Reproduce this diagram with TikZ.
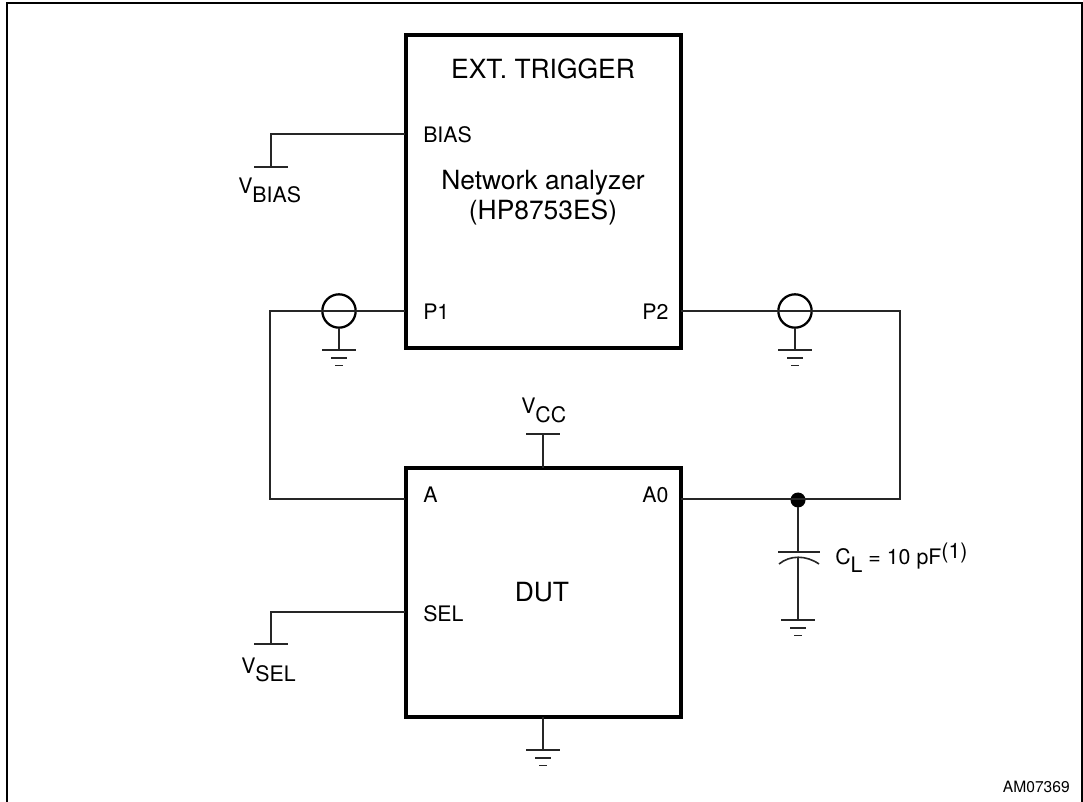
\documentclass[tikz,border=0pt]{standalone}
\usepackage{fontspec}
\setmainfont{TeX Gyre Heros}
\usetikzlibrary{positioning, calc}
\newcommand{\lowered}[1]{\raisebox{-6.5pt}{#1}}
\newcommand{\raised}[1]{\raisebox{4.9pt}{#1}}
\tikzset{
  wire/.style={line width=1.2pt, black!85},
  frame/.style={draw=black, line width=1.5pt},
  block/.style={rectangle, draw=black, line width=3pt, anchor=north west, inner sep=0pt, outer sep=0pt},
  coax/.style={circle, draw=black, line width=1.7pt, minimum size=25pt, inner sep=0pt, outer sep=0pt},
  junction/.style={circle, fill=black, minimum size=11.25pt, inner sep=0pt, outer sep=0pt},
  bigtext/.style={font=\fontsize{19.8}{23}\selectfont, align=center, anchor=base, inner sep=0pt},
  smalltext/.style={font=\fontsize{16}{19}\selectfont, anchor=base west, inner sep=0pt},
  gnd/.pic={
    \draw[wire] (-12.4pt,0) -- (12.4pt,0);
    \draw[wire] (-6pt,-5.8pt) -- (6pt,-5.8pt);
    \draw[wire] (-3pt,-11.5pt) -- (3pt,-11.5pt);
  },
  rail/.pic={
    \draw[wire] (-12.4pt,0) -- (12.4pt,0);
  }
}
\begin{document}
\begin{tikzpicture}[x=0.75pt, y=-0.75pt]
    % Frame
    \useasboundingbox (0,0) rectangle (1083,802);
    \draw[frame] (7,802) -- (7,3) -- (1081.7,3) -- (1081.7,802);

    % Blocks
    \node[block, minimum width=206.25pt, minimum height=234.75pt] (analyzer) at (405.5,35) {};
    \node[block, minimum width=206.25pt, minimum height=186.75pt] (dut) at (405.5,468) {};
    \node[bigtext] (trigger) at (543,79) {EXT. TRIGGER};
    \node[bigtext] (analyzername) at (543,220) {Network analyzer\\(HP8753ES)};
    \node[bigtext] (dutname) at (542,601) {DUT};

    % Pin labels
    \node[smalltext] (biaspin) at (423,143) {BIAS};
    \node[smalltext] (p1pin) at (423,320) {P1};
    \node[smalltext] (p2pin) at (642,320) {P2};
    \node[smalltext] (apin) at (423,503) {A};
    \node[smalltext] (a0pin) at (642,503) {A0};
    \node[smalltext] (selpin) at (423,621) {SEL};

    % Anchor points
    \coordinate (bias) at (405,134);
    \coordinate (biascorner) at (271,134);
    \coordinate (biasrail) at (271,167);
    \coordinate (p1) at (405,311);
    \coordinate (p1corner) at (270,311);
    \coordinate (p2) at (681,311);
    \coordinate (p2corner) at (900,311);
    \coordinate (a) at (405,499);
    \coordinate (acorner) at (270,499);
    \coordinate (a0) at (681,499);
    \coordinate (a0corner) at (900,499);
    \coordinate (sel) at (405,612);
    \coordinate (selcorner) at (271,612);
    \coordinate (selrail) at (271,644);
    \coordinate (vcc) at (543,468);
    \coordinate (vccrail) at (543,434);
    \coordinate (dutbottom) at (543,717);
    \coordinate (dutgnd) at (543,750);
    \coordinate (leftgnd) at (339,350);
    \coordinate (rightgnd) at (795,350);
    \coordinate (capgnd) at (798,620);
    \coordinate (capplate) at (798,552);
    \coordinate (capcurve) at (798,557);

    % Coax and junction
    \node[coax] (leftcoax) at (339,311) {};
    \node[coax] (rightcoax) at (795,311) {};
    \node[junction] (node) at (798,500) {};

    % Wires
    \draw[wire] (bias) -- (biascorner) -- (biasrail);
    \draw[wire] (p1) -- (p1corner) -- (acorner) -- (a);
    \draw[wire] (p2) -- (p2corner) -- (a0corner) -- (a0);
    \draw[wire] (sel) -- (selcorner) -- (selrail);
    \draw[wire] (vcc) -- (vccrail);
    \draw[wire] (dutbottom) -- (dutgnd);
    \draw[wire] (leftcoax) -- (leftgnd);
    \draw[wire] (rightcoax) -- (rightgnd);
    \draw[wire] (node) -- (capplate);
    \draw[wire] (capcurve) -- (capgnd);

    % Capacitor
    \draw[wire] (778,552) -- (820,552);
    \draw[wire] (779,564) .. controls (790,555) and (806,555) .. (819,564);

    % Grounds and rails
    \pic at (biasrail) {rail};
    \pic at (selrail) {rail};
    \pic at (vccrail) {rail};
    \pic at (leftgnd) {gnd};
    \pic at (rightgnd) {gnd};
    \pic at (dutgnd) {gnd};
    \pic at (capgnd) {gnd};

    % Supply labels
    \node[smalltext] (vbias) at (238,194) {V\lowered{BIAS}};
    \node[smalltext] (vsel) at (241,673) {V\lowered{SEL}};
    \node[smalltext] (vccname) at (521,414) {V\lowered{CC}};
    \node[smalltext] (cload) at (835,565) {C\raisebox{-5.8pt}{L} = 10 pF\raised{(1)}};

    % Code
    \node[font=\fontsize{11.7}{14}\selectfont, anchor=base east, inner sep=0pt] (code) at (1070,792) {AM07369};
\end{tikzpicture}
\end{document}
